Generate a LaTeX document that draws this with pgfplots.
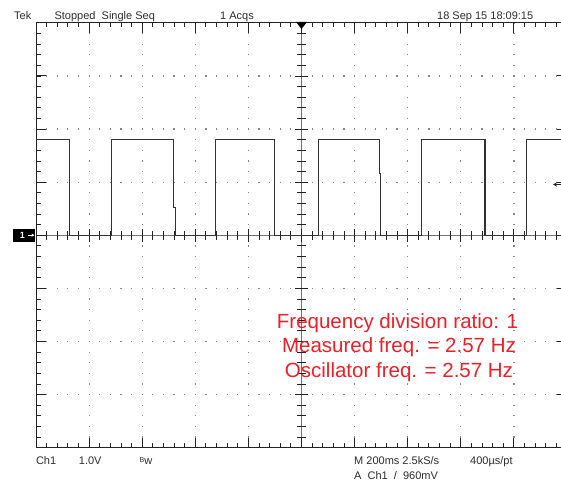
\documentclass[border=0pt]{standalone}
\usepackage{pgfplots}
\pgfplotsset{compat=1.18}
\usepackage{pgfplotstable}
\usepackage{fontspec}
\setmainfont{Liberation Sans}
\usetikzlibrary{arrows.meta}

\definecolor{trace}{RGB}{50,50,50}
\definecolor{dotc}{RGB}{135,135,135}
\definecolor{framec}{RGB}{35,35,35}
\definecolor{note}{RGB}{236,32,40}
\definecolor{scopetext}{RGB}{45,45,45}

% Ch1 record: time (ms) and voltage (V)
\pgfplotstableread{
t v
0 1.80
125 1.80
125 0
285 0
285 1.80
517 1.80
517 0.52
524 0.52
524 0
677 0
677 1.80
898 1.80
898 0
1063 0
1063 1.80
1293 1.80
1293 1.17
1299 1.17
1299 0
1453 0
1453 1.80
1691 1.80
1691 0
1849 0
1849 1.80
2000 1.80
}\chone

\newcommand{\scopefont}{\fontsize{11}{11}\selectfont}

\begin{document}
\begin{tikzpicture}[x=1pt,y=1pt]
\clip (0,0) rectangle (561,485);
\fill[white] (0,0) rectangle (561,485);

% graticule: 10 x 8 divisions of 53.1pt, lower left corner at (36,37.3)
\foreach \k in {1,2,3,4,6,7,8,9}
  \draw[dotc, line width=1.2pt, dash pattern=on 1.2pt off 9.42pt, dash phase=0.6pt]
    ({36+\k*53.1},37.3) -- ({36+\k*53.1},462.1);
\foreach \j in {1,2,3,5,6,7}
  \draw[dotc, line width=1.2pt, dash pattern=on 1.2pt off 9.42pt, dash phase=0.6pt]
    (36,{37.3+\j*53.1}) -- (567,{37.3+\j*53.1});

% centre cross with fine ticks
\draw[black!55, line width=0.6pt] (36,249.7) -- (567,249.7);
\draw[black!55, line width=0.6pt] (301.5,37.3) -- (301.5,462.1);
\foreach \m in {1,...,49}
  \draw[framec, line width=0.9pt] ({36+\m*10.62},245.5) -- ({36+\m*10.62},253.9);
\foreach \m in {1,...,39}
  \draw[framec, line width=0.9pt] (297.3,{37.3+\m*10.62}) -- (305.7,{37.3+\m*10.62});
\foreach \k in {1,...,9}
  \draw[framec, line width=0.9pt] ({36+\k*53.1},243) -- ({36+\k*53.1},256.4);
\foreach \k in {1,...,7}
  \draw[framec, line width=0.9pt] (295,{37.3+\k*53.1}) -- (308,{37.3+\k*53.1});

% edge ticks
\foreach \m in {1,...,49} {
  \draw[framec, line width=0.9pt] ({36+\m*10.62},462.1) -- ({36+\m*10.62},457.6);
  \draw[framec, line width=0.9pt] ({36+\m*10.62},37.3) -- ({36+\m*10.62},41.8);
}
\foreach \m in {1,...,39} {
  \draw[framec, line width=0.9pt] (36,{37.3+\m*10.62}) -- (40.5,{37.3+\m*10.62});
  \draw[framec, line width=0.9pt] (567,{37.3+\m*10.62}) -- (562.5,{37.3+\m*10.62});
}
\foreach \k in {1,...,9} {
  \draw[framec, line width=1pt] ({36+\k*53.1},462.1) -- ({36+\k*53.1},452.1);
  \draw[framec, line width=1pt] ({36+\k*53.1},37.3) -- ({36+\k*53.1},47.3);
}
\foreach \k in {1,...,7} {
  \draw[framec, line width=1pt] (36,{37.3+\k*53.1}) -- (46,{37.3+\k*53.1});
  \draw[framec, line width=1pt] (567,{37.3+\k*53.1}) -- (557,{37.3+\k*53.1});
}

% frame
\draw[framec, line width=1pt] (567,462.1) -- (36,462.1) -- (36,37.3) -- (567,37.3);

% Ch1 trace: 200 ms/div, 1 V/div, ground at the centre line
\begin{axis}[
  at={(36pt,37.3pt)}, anchor=south west,
  width=531pt, height=424.8pt, scale only axis,
  xmin=0, xmax=2000, ymin=-4, ymax=4,
  hide axis, clip=false,
]
\addplot[trace, line width=1.1pt, line join=miter, mark=none] table[x=t, y=v] {\chone};
\end{axis}

% trigger position, ground and trigger level markers
\fill[black] (296,463) -- (307,463) -- (301.5,456) -- cycle;
\fill[black] (12.7,243.3) rectangle (35,256.3);
\node[white, inner sep=0, font=\fontsize{9}{9}\selectfont\bfseries] at (22.5,249.8) {1};
\draw[white, line width=0.8pt, -{Stealth[length=3pt,width=3pt]}] (28,249.8) -- (34.5,249.8);
\draw[framec, line width=1pt, -{Stealth[length=4pt,width=4pt]}] (562,300.5) -- (553,300.5);

% status lines
\begin{scope}[every node/.style={inner sep=0, anchor=base west, text=scopetext, font=\scopefont}]
\node at (14,465) {Tek};
\node at (54.4,465) {Stopped\ \ Single Seq};
\node at (220,465) {1 Acqs};
\node at (437,465) {18 Sep 15 18:09:15};
\node at (35.8,20.5) {Ch1};
\node at (78.7,20.5) {1.0V};
\node at (139.5,20.5) {\raisebox{2pt}{\fontsize{7}{7}\selectfont B}w};
\node at (354,20.5) {M 200ms 2.5kS/s};
\node at (470,20.5) {400µs/pt};
\node at (354,6) {A\ \ Ch1\ \ /\ \ 960mV};
\end{scope}

% measurement annotation
\begin{scope}[every node/.style={inner sep=0, anchor=base, text=note, font=\fontsize{20.5}{24.5}\selectfont}]
\node at (397.5,157) {Frequency division ratio: 1};
\node at (399,132.5) {Measured freq. = 2.57 Hz};
\node at (399,108) {Oscillator freq. = 2.57 Hz};
\end{scope}
\end{tikzpicture}
\end{document}
